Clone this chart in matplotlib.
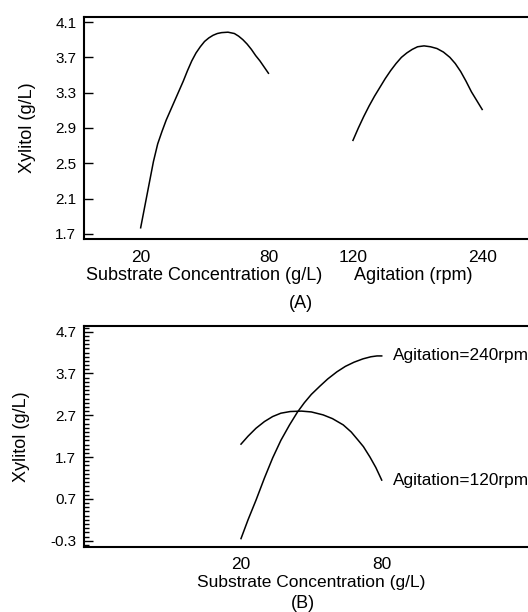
import matplotlib
matplotlib.use("Agg")
import matplotlib.pyplot as plt
import matplotlib.transforms as mtransforms
from matplotlib.ticker import MultipleLocator, FixedLocator, FormatStrFormatter

plt.rcParams['font.family'] = ['Liberation Sans', 'DejaVu Sans']

# (A) one-factor curves
subst_x = [20, 22, 24, 26, 28, 30, 32, 34, 36, 38, 40, 42, 44, 46, 48, 50,
           52, 54, 56, 58, 61, 64, 66, 68, 70, 72, 74, 76, 78, 80]
subst_y = [1.77, 2.02, 2.27, 2.52, 2.72, 2.86, 2.99, 3.10, 3.21, 3.32, 3.43,
           3.55, 3.66, 3.75, 3.82, 3.88, 3.92, 3.95, 3.97, 3.98, 3.985, 3.97,
           3.94, 3.90, 3.85, 3.79, 3.72, 3.66, 3.59, 3.52]
agit_x = [120, 125, 130, 135, 140, 145, 150, 155, 160, 165, 170, 175, 180,
          186, 192, 198, 204, 210, 215, 220, 225, 230, 235, 240]
agit_y = [2.76, 2.90, 3.03, 3.15, 3.26, 3.36, 3.46, 3.55, 3.63, 3.70, 3.75,
          3.79, 3.82, 3.83, 3.82, 3.80, 3.76, 3.70, 3.63, 3.54, 3.43, 3.31,
          3.21, 3.11]

# (B) interaction curves
b240_x = [20, 23, 26.4, 30, 33.5, 37, 40.7, 44, 47, 50, 53.7, 57, 60.9,
          64.5, 68.2, 72, 75.4, 78, 80]
b240_y = [-0.25, 0.20, 0.67, 1.20, 1.68, 2.10, 2.47, 2.77, 3.00, 3.20, 3.40,
          3.57, 3.74, 3.87, 3.97, 4.05, 4.10, 4.12, 4.12]
b120_x = [20, 23, 26.4, 30, 33.5, 37, 41, 45.8, 50, 55, 59, 63.6, 67, 70,
          72.2, 75, 77.5, 80]
b120_y = [2.01, 2.20, 2.39, 2.55, 2.67, 2.75, 2.79, 2.80, 2.78, 2.71, 2.62,
          2.47, 2.30, 2.10, 1.95, 1.70, 1.45, 1.15]

a_yticks = [1.7, 2.1, 2.5, 2.9, 3.3, 3.7, 4.1]
b_yticks = [-0.3, 0.7, 1.7, 2.7, 3.7, 4.7]

W, H = 528, 612
fig = plt.figure(figsize=(W / 100, H / 100), dpi=100)


def px_rect(l, t, r, b):
    return [l / W, 1 - b / H, (r - l) / W, (b - t) / H]


def style_y(ax, ticks, minor=None):
    ax.yaxis.set_major_locator(FixedLocator(ticks))
    ax.yaxis.set_major_formatter(FormatStrFormatter('%.1f'))
    if minor:
        ax.yaxis.set_minor_locator(MultipleLocator(minor))
    ax.tick_params(axis='y', which='major', direction='in', length=6.5,
                   width=1, labelsize=11, pad=5.5)
    ax.tick_params(axis='y', which='minor', direction='in', length=3.6, width=1)
    ax.tick_params(axis='x', length=0, labelsize=12.5, pad=8)
    for s in ax.spines.values():
        s.set_linewidth(1.5)
    ax.spines['right'].set_visible(False)


line_kw = dict(color='black', lw=1.1, solid_joinstyle='round')

# ---- panel A ----
rect_a = px_rect(84, 17, 540, 239)
ax_a = fig.add_axes(rect_a)
ax_a.set_xlim(-6.6, 207.5)
ax_a.set_ylim(1.643, 4.157)
ax_a.set_xticks([20, 80])
style_y(ax_a, a_yticks)
ax_a.plot(subst_x, subst_y, **line_kw)
ax_a.set_ylabel('Xylitol (g/L)', fontsize=13)
ax_a.yaxis.set_label_coords(-0.105, 0.5)

ax_a2 = fig.add_axes(rect_a, facecolor='none')
ax_a2.set_xlim(-129.8, 293.7)
ax_a2.set_ylim(1.643, 4.157)
ax_a2.set_xticks([120, 240])
ax_a2.set_yticks([])
for s in ax_a2.spines.values():
    s.set_visible(False)
ax_a2.tick_params(axis='x', length=0, labelsize=12.5, pad=8)
ax_a2.plot(agit_x, agit_y, **line_kw)

tr = mtransforms.blended_transform_factory(ax_a.transData, ax_a.transAxes)
ax_a.text(50, -0.165, 'Substrate Concentration (g/L)', transform=tr,
          ha='center', va='center', fontsize=13)
tr2 = mtransforms.blended_transform_factory(ax_a2.transData, ax_a2.transAxes)
ax_a2.text(176, -0.165, 'Agitation (rpm)', transform=tr2,
           ha='center', va='center', fontsize=13)
fig.text(301 / W, 1 - 304 / H, '(A)', ha='center', va='center', fontsize=13)

# ---- panel B ----
rect_b = px_rect(84, 326, 540, 547)
ax_b = fig.add_axes(rect_b)
ax_b.set_xlim(-46.95, 147.5)
ax_b.set_ylim(-0.451, 4.836)
ax_b.set_xticks([20, 80])
style_y(ax_b, b_yticks, minor=0.1)
ax_b.tick_params(axis='x', labelsize=12.5, pad=7)
ax_b.plot(b240_x, b240_y, **line_kw)
ax_b.plot(b120_x, b120_y, **line_kw)
ax_b.annotate('Agitation=240rpm', (b240_x[-1], b240_y[-1]), xytext=(8, 0),
              textcoords='offset points', va='center', fontsize=12.4)
ax_b.annotate('Agitation=120rpm', (b120_x[-1], b120_y[-1]), xytext=(8, 0),
              textcoords='offset points', va='center', fontsize=12.4)
ax_b.set_ylabel('Xylitol (g/L)', fontsize=13)
ax_b.yaxis.set_label_coords(-0.119, 0.5)
trb = mtransforms.blended_transform_factory(ax_b.transData, ax_b.transAxes)
ax_b.text(50, -0.16, 'Substrate Concentration (g/L)', transform=trb,
          ha='center', va='center', fontsize=12.5)
fig.text(303 / W, 1 - 603 / H, '(B)', ha='center', va='center', fontsize=13)

fig.savefig('out.png', dpi=100)
